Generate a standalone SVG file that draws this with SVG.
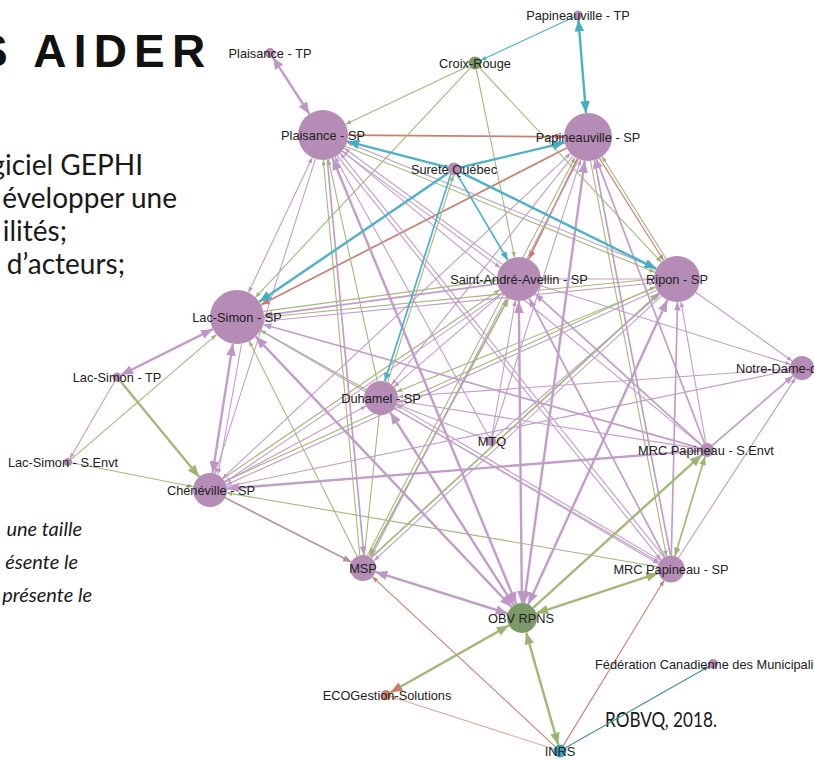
<svg xmlns="http://www.w3.org/2000/svg" width="814" height="761" viewBox="0 0 814 761">
<style>
.bg{fill:#ffffff}
line{fill:none}
.p{stroke:#c29dc8}
.g{stroke:#a4b878}
.t{stroke:#4cb2c8}
.t2{stroke:#3f8f8e}
.r{stroke:#c98070}
.rl{stroke:#dcaa9c}
.br{stroke:#b8979a}
.w1{stroke-width:1.1}
.w2{stroke-width:1.7}
.w3{stroke-width:2.4}
.np{fill:#b48cb6}
.ng{fill:#7b9a68}
.ns{fill:#c8846f}
.nt{fill:#3c9fb4}
.lb{font-family:"Liberation Sans",Arial,sans-serif;font-size:12.8px;fill:#222;text-anchor:middle}
.lbs{font-family:"Liberation Sans",Arial,sans-serif;font-size:12.8px;fill:#222}
.body{font-family:Lato,"Open Sans",sans-serif;font-size:28px;fill:#1a1a1a}
.ital{font-family:Lato,"Open Sans",sans-serif;font-size:20px;font-style:italic;fill:#1a1a1a;text-anchor:end}
</style>
<defs>
<marker id="mp" viewBox="0 0 10 8" refX="10" refY="4" markerWidth="5" markerHeight="4" orient="auto-start-reverse" markerUnits="strokeWidth"><path d="M0,0L10,4L0,8z" fill="#bf97c6"/></marker>
<marker id="mg" viewBox="0 0 10 8" refX="10" refY="4" markerWidth="5" markerHeight="4" orient="auto-start-reverse" markerUnits="strokeWidth"><path d="M0,0L10,4L0,8z" fill="#9cb470"/></marker>
<marker id="mt" viewBox="0 0 10 8" refX="10" refY="4" markerWidth="5" markerHeight="4" orient="auto-start-reverse" markerUnits="strokeWidth"><path d="M0,0L10,4L0,8z" fill="#45aec5"/></marker>
<marker id="mt2" viewBox="0 0 10 8" refX="10" refY="4" markerWidth="5" markerHeight="4" orient="auto-start-reverse" markerUnits="strokeWidth"><path d="M0,0L10,4L0,8z" fill="#3f8f8e"/></marker>
<marker id="mr" viewBox="0 0 10 8" refX="10" refY="4" markerWidth="5" markerHeight="4" orient="auto-start-reverse" markerUnits="strokeWidth"><path d="M0,0L10,4L0,8z" fill="#c97a69"/></marker>
<marker id="mrl" viewBox="0 0 10 8" refX="10" refY="4" markerWidth="5" markerHeight="4" orient="auto-start-reverse" markerUnits="strokeWidth"><path d="M0,0L10,4L0,8z" fill="#d49a8a"/></marker>
<marker id="mbr" viewBox="0 0 10 8" refX="10" refY="4" markerWidth="5" markerHeight="4" orient="auto-start-reverse" markerUnits="strokeWidth"><path d="M0,0L10,4L0,8z" fill="#b3909a"/></marker>
</defs>
<rect class="bg" x="0" y="0" width="814" height="761"/>

<g id="background-text">
<text x="-22.9" y="67" font-family="'Liberation Sans',Arial,sans-serif" font-size="46" font-weight="bold" letter-spacing="7.2" fill="#111">S AIDER</text>
<text class="body" x="143" y="175" text-anchor="end">giciel GEPHI</text>
<text class="body" x="177" y="208" text-anchor="end">évelopper une</text>
<text class="body" x="67" y="241" text-anchor="end">ilités;</text>
<text class="body" x="125" y="274" text-anchor="end">d’acteurs;</text>
<text class="ital" x="82" y="536">une taille</text>
<text class="ital" x="78" y="569">ésente le</text>
<text class="ital" x="92" y="602">présente le</text>
<text x="605" y="727" font-family="Lato,'Open Sans',sans-serif" font-size="21" fill="#1a1a1a" textLength="112" lengthAdjust="spacingAndGlyphs">ROBVQ, 2018.</text>
</g>

<g id="connectors">
<line class="p w3" x1="272.7" y1="57.2" x2="309.4" y2="114.0" marker-start="url(#mp)" marker-end="url(#mp)"/>
<line class="t w3" x1="578.4" y1="19.5" x2="586.0" y2="113.1" marker-start="url(#mt)" marker-end="url(#mt)"/>
<line class="t w1" x1="573.9" y1="16.9" x2="480.9" y2="60.3" marker-end="url(#mt)"/>
<line class="r w2" x1="348" y1="135.2" x2="564" y2="136.8" marker-end="url(#mr)"/>
<line class="r w2" x1="566.6" y1="147.9" x2="261.0" y2="304.7" marker-end="url(#mr)"/>
<line class="r w2" x1="577.5" y1="158.6" x2="528.6" y2="259.2" marker-end="url(#mr)"/>
<line class="r w1" x1="599.4" y1="158.1" x2="663.5" y2="260.3" marker-end="url(#mr)"/>
<line class="rl w1" x1="553.8" y1="749.0" x2="390.8" y2="696.5" marker-end="url(#mrl)"/>
<line class="r w1" x1="555.2" y1="746.6" x2="372.5" y2="576.9" marker-end="url(#mr)"/>
<line class="r w1" x1="563.4" y1="745.4" x2="664.0" y2="580.5" marker-end="url(#mr)"/>
<line class="t2 w1" x1="565.6" y1="747.8" x2="708.7" y2="666.5" marker-end="url(#mt2)"/>
<line class="g w1" x1="469.1" y1="65.8" x2="345.6" y2="124.3" marker-end="url(#mg)"/>
<line class="g w1" x1="470.6" y1="67.7" x2="255.5" y2="297.3" marker-end="url(#mg)"/>
<line class="g w1" x1="476.3" y1="69.4" x2="514.6" y2="257.4" marker-end="url(#mg)"/>
<line class="g w1" x1="479.4" y1="67.7" x2="661.3" y2="262.2" marker-end="url(#mg)"/>
<line class="g w3" x1="119.9" y1="380.5" x2="199.2" y2="476.9" marker-end="url(#mg)"/>
<line class="g w1" x1="71.0" y1="459.4" x2="216.5" y2="334.6" marker-end="url(#mg)"/>
<line class="g w1" x1="71.9" y1="462.8" x2="193.3" y2="486.7" marker-end="url(#mg)"/>
<line class="g w1" x1="366.2" y1="389.7" x2="260.5" y2="330.2" marker-end="url(#mg)"/>
<line class="g w1" x1="357.2" y1="556.4" x2="249.1" y2="341.1" marker-end="url(#mg)"/>
<line class="g w1" x1="653.9" y1="279.0" x2="263.7" y2="317.3" marker-end="url(#mg)"/>
<line class="g w1" x1="666.1" y1="258.7" x2="602.0" y2="156.5" marker-end="url(#mg)"/>
<line class="g w1" x1="387.6" y1="382.3" x2="453.4" y2="175.7" marker-end="url(#mg)"/>
<line class="g w2" x1="369.2" y1="556.6" x2="508.5" y2="298.4" marker-start="url(#mg)" marker-end="url(#mg)"/>
<line class="g w2" x1="371.2" y1="557.7" x2="658.7" y2="293.1" marker-end="url(#mg)"/>
<line class="g w1" x1="377.3" y1="381.4" x2="328.4" y2="159.4" marker-end="url(#mg)"/>
<line class="g w1" x1="359.8" y1="555.3" x2="323.3" y2="160.1" marker-end="url(#mg)"/>
<line class="g w1" x1="657.7" y1="566.7" x2="226.8" y2="492.9" marker-end="url(#mg)"/>
<line class="g w1" x1="367.2" y1="555.6" x2="575.1" y2="157.4" marker-end="url(#mg)"/>
<line class="g w1" x1="590.5" y1="161.0" x2="666.4" y2="556.1" marker-end="url(#mg)"/>
<line class="g w1" x1="655.7" y1="287.6" x2="396.8" y2="391.7" marker-end="url(#mg)"/>
<line class="g w1" x1="364.4" y1="555.1" x2="382.8" y2="381.1" marker-end="url(#mg)"/>
<line class="g w1" x1="263.5" y1="311.4" x2="496.9" y2="279.9" marker-end="url(#mg)"/>
<line class="g w1" x1="222.9" y1="478.7" x2="499.7" y2="289.7" marker-end="url(#mg)"/>
<line class="g w1" x1="224.7" y1="481.2" x2="655.2" y2="286.7" marker-end="url(#mg)"/>
<line class="g w1" x1="345.4" y1="146.3" x2="654.9" y2="272.2" marker-end="url(#mg)"/>
<line class="p w3" x1="121.0" y1="375.0" x2="212.9" y2="329.1" marker-start="url(#mp)" marker-end="url(#mp)"/>
<line class="p w1" x1="114.8" y1="380.9" x2="70.0" y2="458.5" marker-end="url(#mp)"/>
<line class="p w3" x1="232.8" y1="343.7" x2="212.6" y2="473.2" marker-start="url(#mp)" marker-end="url(#mp)"/>
<line class="p w1" x1="241.5" y1="344.3" x2="218.2" y2="474.0" marker-end="url(#mp)"/>
<line class="p w3" x1="507.7" y1="613.5" x2="375.4" y2="571.9" marker-start="url(#mp)" marker-end="url(#mp)"/>
<line class="p w3" x1="511.7" y1="607.1" x2="255.6" y2="336.6" marker-start="url(#mp)" marker-end="url(#mp)"/>
<line class="p w3" x1="513.9" y1="605.4" x2="390.2" y2="412.3" marker-start="url(#mp)" marker-end="url(#mp)"/>
<line class="p w3" x1="516.3" y1="604.1" x2="332.5" y2="158.1" marker-start="url(#mp)" marker-end="url(#mp)"/>
<line class="p w3" x1="521.9" y1="603" x2="518.8" y2="301" marker-start="url(#mp)" marker-end="url(#mp)"/>
<line class="p w3" x1="524.0" y1="603.1" x2="584.7" y2="160.8" marker-start="url(#mp)" marker-end="url(#mp)"/>
<line class="p w3" x1="528.2" y1="604.4" x2="667.4" y2="299.9" marker-start="url(#mp)" marker-end="url(#mp)"/>
<line class="p w2" x1="327.3" y1="159.7" x2="363.8" y2="554.9" marker-end="url(#mp)"/>
<line class="br w2" x1="225.1" y1="497.7" x2="351.4" y2="562.1" marker-end="url(#mbr)"/>
<line class="p w2" x1="700.3" y1="448.1" x2="263.0" y2="324.3" marker-end="url(#mp)"/>
<line class="p w2" x1="497.5" y1="283.9" x2="264.1" y2="315.4" marker-end="url(#mp)"/>
<line class="p w3" x1="700.0" y1="450.6" x2="227.0" y2="488.6" marker-end="url(#mp)"/>
<line class="p w1" x1="225.0" y1="481.9" x2="366.0" y2="406.1" marker-end="url(#mp)"/>
<line class="p w1" x1="312.3" y1="157.6" x2="248.5" y2="292.6" marker-start="url(#mp)" marker-end="url(#mp)"/>
<line class="p w1" x1="315.4" y1="158.8" x2="215.2" y2="473.8" marker-end="url(#mp)"/>
<line class="p w1" x1="573.1" y1="155.8" x2="391.6" y2="384.7" marker-end="url(#mp)"/>
<line class="p w1" x1="570.5" y1="153.4" x2="222.4" y2="478.4" marker-start="url(#mp)" marker-end="url(#mp)"/>
<line class="p w1" x1="492.5" y1="436.2" x2="580.7" y2="159.9" marker-end="url(#mp)"/>
<line class="p w1" x1="701.6" y1="445.6" x2="342.3" y2="150.9" marker-end="url(#mp)"/>
<line class="p w2" x1="704.5" y1="443.5" x2="596.5" y2="159.4" marker-end="url(#mp)"/>
<line class="p w2" x1="701.8" y1="445.3" x2="535.3" y2="293.8" marker-end="url(#mp)"/>
<line class="p w1" x1="705.8" y1="443.1" x2="681.0" y2="301.7" marker-end="url(#mp)"/>
<line class="p w2" x1="712.3" y1="445.4" x2="792.9" y2="375.8" marker-end="url(#mp)"/>
<line class="p w1" x1="700.1" y1="448.9" x2="397.8" y2="400.7" marker-end="url(#mp)"/>
<line class="p w1" x1="664.1" y1="557.3" x2="340.3" y2="153.3" marker-end="url(#mp)"/>
<line class="p w2" x1="664.7" y1="557.0" x2="529.2" y2="298.5" marker-end="url(#mp)"/>
<line class="p w2" x1="671.3" y1="555.5" x2="677.5" y2="302" marker-end="url(#mp)"/>
<line class="p w2" x1="670.4" y1="555.3" x2="594.5" y2="160.2" marker-end="url(#mp)"/>
<line class="p w1" x1="678.4" y1="557.7" x2="795.4" y2="378.1" marker-end="url(#mp)"/>
<line class="p w1" x1="660.4" y1="560.4" x2="396.6" y2="404.9" marker-end="url(#mp)"/>
<line class="p w1" x1="790.0" y1="368.9" x2="398.0" y2="396.8" marker-end="url(#mp)"/>
<line class="p w1" x1="540.0" y1="285.6" x2="790.6" y2="364.4" marker-end="url(#mp)"/>
<line class="p w1" x1="695.7" y1="292.3" x2="792.2" y2="361.0" marker-end="url(#mp)"/>
<line class="p w1" x1="226.6" y1="486.6" x2="790.3" y2="370.4" marker-end="url(#mp)"/>
<line class="p w1" x1="541" y1="279" x2="654" y2="279" marker-start="url(#mp)" marker-end="url(#mp)"/>
<line class="p w1" x1="502.3" y1="293.4" x2="393.9" y2="386.9" marker-end="url(#mp)"/>
<line class="p w1" x1="501.9" y1="293.1" x2="225.1" y2="482.1" marker-end="url(#mp)"/>
<line class="p w1" x1="656.8" y1="290.3" x2="226.3" y2="484.8" marker-end="url(#mp)"/>
<line class="p w1" x1="661.5" y1="296.1" x2="374.0" y2="560.7" marker-end="url(#mp)"/>
<line class="p w1" x1="486.3" y1="439.2" x2="396.8" y2="404.2" marker-end="url(#mp)"/>
<line class="p w1" x1="491.9" y1="436.1" x2="515.3" y2="300.7" marker-end="url(#mp)"/>
<line class="p w1" x1="488.6" y1="436.6" x2="335.0" y2="156.9" marker-end="url(#mp)"/>
<line class="p w1" x1="494.8" y1="437.7" x2="659.7" y2="294.1" marker-end="url(#mp)"/>
<line class="p w1" x1="260.4" y1="330.6" x2="659.3" y2="562.2" marker-end="url(#mp)"/>
<line class="p w1" x1="394.6" y1="408.3" x2="658.4" y2="563.8" marker-end="url(#mp)"/>
<line class="p w1" x1="337.1" y1="155.8" x2="660.9" y2="559.8" marker-end="url(#mp)"/>
<line class="p w1" x1="578.7" y1="159.2" x2="370.8" y2="557.4" marker-end="url(#mp)"/>
<line class="p w1" x1="264.1" y1="321.3" x2="654.3" y2="283.0" marker-end="url(#mp)"/>
<line class="p w1" x1="342.0" y1="151.4" x2="500.1" y2="267.6" marker-end="url(#mp)"/>
<line class="p w1" x1="502.5" y1="264.4" x2="344.4" y2="148.2" marker-end="url(#mp)"/>
<line class="p w1" x1="656.5" y1="268.4" x2="347.0" y2="142.5" marker-end="url(#mp)"/>
<line class="g w3" x1="508.9" y1="625.4" x2="390.4" y2="692.5" marker-start="url(#mg)" marker-end="url(#mr)"/>
<line class="g w3" x1="526.1" y1="632.4" x2="558.2" y2="744.7" marker-start="url(#mg)" marker-end="url(#mg)"/>
<line class="g w3" x1="536.3" y1="613.3" x2="658.2" y2="573.2" marker-start="url(#mg)" marker-end="url(#mg)"/>
<line class="g w3" x1="533.1" y1="607.9" x2="701.8" y2="454.7" marker-end="url(#mg)"/>
<line class="g w2" x1="705.0" y1="456.7" x2="674.9" y2="556.1" marker-start="url(#mg)" marker-end="url(#mg)"/>
<line class="t w3" x1="447.7" y1="167.4" x2="347.2" y2="141.3" marker-end="url(#mt)"/>
<line class="t w3" x1="460.3" y1="167.5" x2="564.6" y2="142.6" marker-end="url(#mt)"/>
<line class="t w3" x1="459.8" y1="171.9" x2="656.4" y2="268.8" marker-end="url(#mt)"/>
<line class="t w2" x1="457.3" y1="174.6" x2="507.8" y2="260.1" marker-end="url(#mt)"/>
<line class="t w2" x1="450.6" y1="174.7" x2="384.8" y2="381.3" marker-end="url(#mt)"/>
<line class="t w3" x1="448.6" y1="172.7" x2="259.3" y2="301.8" marker-end="url(#mt)"/>
</g>

<g id="node-plaisance-tp"><circle class="np" cx="270" cy="53" r="5"/><text class="lb" x="270" y="57.5">Plaisance - TP</text></g>
<g id="node-croix-rouge"><circle class="ng" cx="475" cy="63" r="6.5"/><text class="lb" x="475" y="67.5">Croix-Rouge</text></g>
<g id="node-papineauville-tp"><circle class="np" cx="578" cy="15" r="4.5"/><text class="lb" x="578" y="19.5">Papineauville - TP</text></g>
<g id="node-plaisance-sp"><circle class="np" cx="323" cy="135" r="25"/><text class="lb" x="323" y="139.5">Plaisance - SP</text></g>
<g id="node-papineauville-sp"><circle class="np" cx="588" cy="137" r="24"/><text class="lb" x="588" y="141.5">Papineauville - SP</text></g>
<g id="node-surete-quebec"><circle class="np" cx="454" cy="169" r="6.5"/><text class="lb" x="454" y="173.5">Sureté Québec</text></g>
<g id="node-saint-andre-avellin-sp"><circle class="np" cx="519" cy="279" r="22"/><text class="lb" x="519" y="283.5">Saint-André-Avellin - SP</text></g>
<g id="node-ripon-sp"><circle class="np" cx="677" cy="279" r="23"/><text class="lb" x="677" y="283.5">Ripon - SP</text></g>
<g id="node-lac-simon-sp"><circle class="np" cx="237" cy="317" r="27"/><text class="lb" x="237" y="321.5">Lac-Simon - SP</text></g>
<g id="node-notre-dame"><circle class="np" cx="802" cy="368" r="12"/><text class="lbs" x="736" y="372.5">Notre-Dame-d</text></g>
<g id="node-lac-simon-tp"><circle class="np" cx="117" cy="377" r="4.5"/><text class="lb" x="117" y="381.5">Lac-Simon - TP</text></g>
<g id="node-lac-simon-senvt"><circle class="np" cx="68" cy="462" r="4"/><text class="lb" x="63" y="466.5">Lac-Simon - S.Envt</text></g>
<g id="node-duhamel-sp"><circle class="np" cx="381" cy="398" r="17"/><text class="lb" x="381" y="402.5">Duhamel - SP</text></g>
<g id="node-mtq"><circle class="np" cx="491" cy="441" r="5"/><text class="lb" x="492" y="445.5">MTQ</text></g>
<g id="node-mrc-papineau-senvt"><circle class="np" cx="707" cy="450" r="7"/><text class="lb" x="706" y="454.5">MRC Papineau - S.Envt</text></g>
<g id="node-cheneville-sp"><circle class="np" cx="210" cy="490" r="17"/><text class="lb" x="211" y="494.5">Chénéville - SP</text></g>
<g id="node-msp"><circle class="np" cx="363" cy="568" r="13"/><text class="lb" x="363" y="572.5">MSP</text></g>
<g id="node-mrc-papineau-sp"><circle class="np" cx="671" cy="569" r="13.5"/><text class="lb" x="671" y="573.5">MRC Papineau - SP</text></g>
<g id="node-obv-rpns"><circle class="ng" cx="522" cy="618" r="15"/><text class="lb" x="521" y="622.5">OBV RPNS</text></g>
<g id="node-federation"><circle class="np" cx="713" cy="664" r="5"/><text class="lbs" x="595" y="668.5">Fédération Canadienne des Municipali</text></g>
<g id="node-ecogestion"><circle class="ns" cx="386" cy="695" r="5"/><text class="lb" x="387" y="699.5">ECOGestion-Solutions</text></g>
<g id="node-inrs"><circle class="nt" cx="560" cy="751" r="6.5"/><text class="lb" x="560" y="755.5">INRS</text></g>
</svg>
